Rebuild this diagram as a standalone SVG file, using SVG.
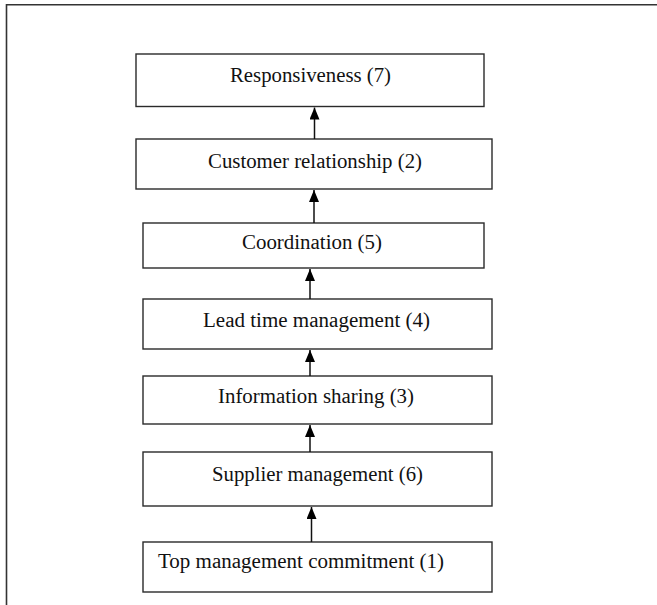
<svg xmlns="http://www.w3.org/2000/svg" width="657" height="605" viewBox="0 0 657 605">
<style>
.box{fill:#fff;stroke:#2a2a2a;stroke-width:1.4}
.lbl{font-family:"Liberation Serif","Times New Roman",serif;font-size:20px;fill:#111}
.c{stroke:#111;stroke-width:1.5;fill:none;marker-end:url(#ah)}
.frame{stroke:#333;stroke-width:1.6;fill:none}
</style>
<defs>
<marker id="ah" markerUnits="userSpaceOnUse" viewBox="0 0 12 10" markerWidth="12" markerHeight="10" refX="12" refY="5" orient="auto">
<path d="M0,0 L12,5 L0,10 z" fill="#000"/>
</marker>
</defs>
<rect width="657" height="605" fill="#fff"/>
<path class="frame" d="M6.5,605 V4.8 H657"/>
<g id="n7"><rect class="box" x="136" y="54" width="348" height="52.5"/><text class="lbl" x="230" y="81.5" textLength="161" lengthAdjust="spacingAndGlyphs">Responsiveness (7)</text></g>
<g id="n2"><rect class="box" x="136" y="139" width="356" height="50"/><text class="lbl" x="208" y="168" textLength="214" lengthAdjust="spacingAndGlyphs">Customer relationship (2)</text></g>
<g id="n5"><rect class="box" x="143" y="223" width="341" height="45"/><text class="lbl" x="242" y="249" textLength="140" lengthAdjust="spacingAndGlyphs">Coordination (5)</text></g>
<g id="n4"><rect class="box" x="143" y="299" width="349" height="50"/><text class="lbl" x="203" y="326.5" textLength="227" lengthAdjust="spacingAndGlyphs">Lead time management (4)</text></g>
<g id="n3"><rect class="box" x="143" y="376" width="349" height="48"/><text class="lbl" x="218" y="402.5" textLength="196" lengthAdjust="spacingAndGlyphs">Information sharing (3)</text></g>
<g id="n6"><rect class="box" x="143" y="452" width="349" height="54"/><text class="lbl" x="212" y="480.5" textLength="211" lengthAdjust="spacingAndGlyphs">Supplier management (6)</text></g>
<g id="n1"><rect class="box" x="143" y="542" width="349" height="50"/><text class="lbl" x="158" y="567.5" textLength="286" lengthAdjust="spacingAndGlyphs">Top management commitment (1)</text></g>
<g id="connectors">
<line class="c" x1="314.5" y1="139" x2="314.5" y2="107.5"/>
<line class="c" x1="314" y1="223" x2="314" y2="190"/>
<line class="c" x1="310" y1="299" x2="310" y2="269"/>
<line class="c" x1="310" y1="376" x2="310" y2="350"/>
<line class="c" x1="310" y1="452" x2="310" y2="425"/>
<line class="c" x1="311.5" y1="542" x2="311.5" y2="507"/>
</g>
</svg>
